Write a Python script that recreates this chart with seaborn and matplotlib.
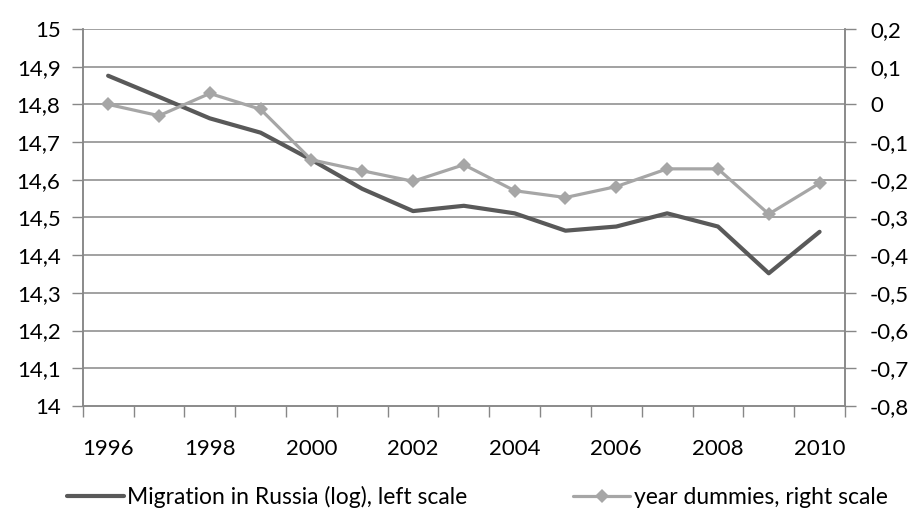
import matplotlib
matplotlib.use("Agg")
import matplotlib.pyplot as plt
from matplotlib.ticker import FixedLocator, FuncFormatter, NullFormatter
import numpy as np
import pandas as pd
import seaborn as sns

# data
years = list(range(1996, 2011))
migration_log = [14.876, 14.820, 14.763, 14.725, 14.653, 14.576, 14.517, 14.531,
                 14.511, 14.465, 14.476, 14.511, 14.476, 14.352, 14.462]
year_dummies = [0.0, -0.030, 0.029, -0.013, -0.147, -0.176, -0.204, -0.160,
                -0.229, -0.247, -0.218, -0.171, -0.171, -0.291, -0.209]
label_dark = "Migration in Russia (log), left scale"
label_light = "year dummies, right scale"

dark = "#595959"
light = "#a6a6a6"
grid = "#878787"
fs = 16

sns.set_style("white")
plt.rcParams["font.family"] = ["Lato", "DejaVu Sans"]
plt.rcParams["font.size"] = fs
plt.rcParams["text.color"] = "black"
plt.rcParams["xtick.color"] = "black"
plt.rcParams["ytick.color"] = "black"

df = pd.DataFrame({"year": years, "mig": migration_log, "dum": year_dummies})

fig = plt.figure(figsize=(9.14, 5.30), dpi=100)
ax = fig.add_axes([0.0905, 0.234, 0.834, 0.7113])
ax2 = ax.twinx()

sns.lineplot(data=df, x="year", y="mig", ax=ax, color=dark, linewidth=3.0,
             label=label_dark, legend=False, zorder=3)
sns.lineplot(data=df, x="year", y="dum", ax=ax2, color=light, linewidth=2.3,
             marker="D", markersize=7.5, markeredgewidth=0, label=label_light,
             legend=False, zorder=3)


def comma_fmt(v, p):
    v = round(v, 2)
    if abs(v) < 1e-9:
        v = 0.0
    return ("%g" % v).replace(".", ",")


ax.set_ylim(14, 15)
ax.set_yticks(np.round(np.arange(14, 15.01, 0.1), 2))
ax.yaxis.set_major_formatter(FuncFormatter(comma_fmt))
ax2.set_ylim(-0.8, 0.2)
ax2.set_yticks(np.round(np.arange(-0.8, 0.21, 0.1), 2))
ax2.yaxis.set_major_formatter(FuncFormatter(comma_fmt))

ax.set_xlim(years[0] - 0.5, years[-1] + 0.5)
ax.xaxis.set_major_locator(FixedLocator([y - 0.5 for y in years] + [years[-1] + 0.5]))
ax.xaxis.set_major_formatter(NullFormatter())
ax.xaxis.set_minor_locator(FixedLocator(years[::2]))
ax.xaxis.set_minor_formatter(FuncFormatter(lambda v, p: "%d" % v))
ax.tick_params(axis="x", which="major", direction="out", length=8, width=1, color=grid, bottom=True)
ax.tick_params(axis="x", which="minor", length=0, pad=24, labelsize=fs)
ax.tick_params(axis="y", direction="out", length=8, width=1, color=grid, left=True, pad=8, labelsize=fs)
ax2.tick_params(axis="y", direction="out", length=8, width=1, color=grid, right=True, pad=10, labelsize=fs)

ax.set_xlabel("")
ax.set_ylabel("")
ax2.set_ylabel("")
ax.grid(False)
ax2.grid(False)
for v in ax.get_yticks()[1:]:
    ax.axhline(v, color=grid, linewidth=1.1, zorder=1)

for a in (ax, ax2):
    a.spines["top"].set_visible(False)
    for s in ("left", "right", "bottom"):
        a.spines[s].set_color(grid)
        a.spines[s].set_linewidth(1.1)

h1, l1 = ax.get_legend_handles_labels()
h2, l2 = ax2.get_legend_handles_labels()
fig.legend(h1 + h2, l1 + l2, loc="center", bbox_to_anchor=(0.522, 0.062), ncol=2,
           frameon=False, handlelength=2.5, handletextpad=0.15, columnspacing=4.6,
           fontsize=16.5)

fig.savefig("out.png", dpi=100)
